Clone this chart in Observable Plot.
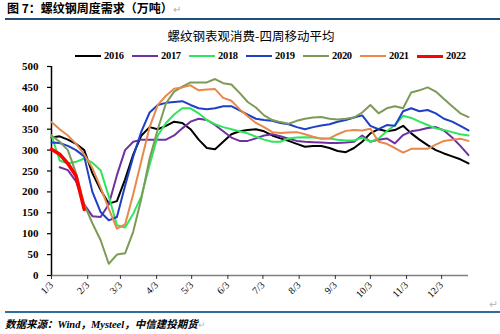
<!DOCTYPE html>
<html>
<head>
<meta charset="utf-8">
<script src="https://cdn.jsdelivr.net/npm/d3@7"></script>
<script src="https://cdn.jsdelivr.net/npm/@observablehq/plot@0.6"></script>
<style>
  html, body { margin: 0; padding: 0; background: #fff; }
  body { width: 500px; height: 334px; overflow: hidden; position: relative; font-family: "Noto Sans CJK SC", sans-serif; color: #000; }
  #top { position: relative; height: 62px; }
  #head { position: absolute; left: 7px; top: 0; font-size: 12px; font-weight: bold; line-height: 15px; white-space: nowrap; }
  #head .ret { color: #aaa; font-weight: normal; font-size: 10px; }
  #headline { position: absolute; left: 5px; right: 0; top: 18px; height: 2px; background: #1F4E79; }
  #title { position: absolute; left: 0; width: 502px; top: 29px; text-align: center; font-size: 12.5px; line-height: 14px; }
  #legend { position: absolute; left: 75px; top: 50px; height: 12px; display: flex; }
  .item { display: flex; align-items: center; width: 57px; height: 12px; }
  .swatch { width: 26px; margin-right: 3px; }
  .lab { font-family: "Liberation Serif", serif; font-size: 10.5px; font-weight: bold; line-height: 12px; letter-spacing: -0.3px; }
  #chart svg { display: block; overflow: visible; }
  #foot { position: relative; height: 28px; }
  #footline { position: absolute; left: 5px; right: 0; top: 5px; height: 2px; background: #2F6E9F; }
  #source { position: absolute; left: 5px; top: 12px; font-size: 10.5px; line-height: 14px; font-weight: bold; font-style: italic; font-family: "Liberation Serif", "Noto Sans CJK SC", serif; white-space: nowrap; }
  #ret2 { position: absolute; left: 489px; top: 295px; color: #bbb; font-size: 11px; }
</style>
</head>
<body>
<div id="top">
  <div id="head">图 7：螺纹钢周度需求（万吨）<span class="ret">↵</span></div>
  <div id="headline"></div>
  <div id="title">螺纹钢表观消费-四周移动平均</div>
  <div id="legend"></div>
</div>
<div id="chart"></div>
<div id="foot">
  <div id="footline"></div>
  <div id="source">数据来源：Wind，Mysteel，中信建投期货<span style="color:#bbb;font-weight:normal;font-style:normal;font-size:9px">↵</span></div>
</div>
<div id="ret2">↵</div>
<script>
// ---- data ----
const years = ["2016", "2017", "2018", "2019", "2020", "2021", "2022"];
const colors = ["#000000", "#7030A0", "#2EE65A", "#1F3FC4", "#7E9A56", "#E8884A", "#FF0000"];
const tickLabels = ["1/3","2/3","3/3","4/3","5/3","6/3","7/3","8/3","9/3","10/3","11/3","12/3"];
const yTicks = [0, 50, 100, 150, 200, 250, 300, 350, 400, 450, 500];

const y2016 = [330,333,325,315,300,245,205,172,178,230,290,335,355,350,358,368,365,350,325,305,302,320,338,345,348,350,345,335,328,322,315,308,310,310,305,298,295,305,320,340,350,345,348,358,340,325,312,300,292,285,278,268];
const y2017 = [null,259,252,225,170,142,140,170,240,300,320,325,325,325,325,335,352,368,375,372,360,345,330,322,322,328,335,338,333,327,322,320,319,318,317,317,318,320,335,320,325,328,316,336,345,348,353,355,347,330,310,288];
const y2018 = [335,275,268,272,280,270,252,190,120,115,148,190,265,335,365,385,400,400,388,372,362,355,350,345,340,332,325,320,320,328,330,331,330,328,328,325,323,323,330,320,328,345,360,382,377,368,360,352,348,343,338,335];
const y2019 = [318,317,310,300,285,200,152,132,140,215,285,345,390,408,413,415,417,408,400,398,400,405,405,395,385,375,372,370,365,362,355,350,355,359,362,368,372,378,383,358,350,360,358,393,400,393,396,388,375,368,358,347];
const y2020 = [335,320,300,245,170,125,85,28,50,53,105,185,280,350,412,440,452,462,462,462,470,460,457,437,415,402,383,372,367,363,370,375,378,379,375,373,375,378,390,408,388,400,405,400,438,443,450,440,422,405,388,379];
const y2021 = [367,350,335,315,290,257,211,160,112,122,195,275,355,408,430,447,450,455,443,445,446,425,418,398,381,365,355,343,341,342,343,338,332,327,328,338,346,348,347,351,320,315,305,294,303,303,303,313,322,325,327,322];
const y2022 = [302,290,268,238,158];
const series = [y2016, y2017, y2018, y2019, y2020, y2021, y2022];

// ---- table ----
const startMs = Date.UTC(2021, 0, 3);
const endMs = Date.UTC(2021, 11, 26);
const rows = [];
series.forEach((vals, i) => {
  vals.forEach((v, k) => {
    if (v != null) rows.push({year: years[i], date: new Date(startMs + k * 7 * 864e5), value: v});
  });
});
const tickDates = tickLabels.map((_, i) => new Date(Date.UTC(2021, i, 3)));

// ---- legend ----
const legend = document.getElementById("legend");
years.forEach((y, i) => {
  const it = document.createElement("div");
  it.className = "item";
  const sw = document.createElement("div");
  sw.className = "swatch";
  sw.style.height = (y === "2022" ? 3 : 2) + "px";
  sw.style.background = colors[i];
  const lb = document.createElement("span");
  lb.className = "lab";
  lb.textContent = y;
  it.appendChild(sw); it.appendChild(lb);
  legend.appendChild(it);
});

// ---- chart ----
const marks = [
  Plot.ruleY([0], {stroke: "#808080", strokeWidth: 1.5}),
  Plot.ruleX([new Date(startMs)], {y1: 0, y2: 500, stroke: "#000", strokeWidth: 1.5}),
  Plot.axisY({ticks: yTicks, tickSize: 4, tickPadding: 9, fontSize: 11, fontWeight: "bold", fontFamily: "Liberation Serif", stroke: "#000", strokeWidth: 1.2, label: null}),
  Plot.axisX({ticks: tickDates, tickFormat: d => tickLabels[d.getUTCMonth()], tickRotate: -45, tickSize: 4, tickPadding: 4, fontSize: 10, fontFamily: "Liberation Serif", stroke: "#333", label: null}),
];
years.forEach((y, i) => {
  marks.push(Plot.line(rows.filter(r => r.year === y), {
    x: "date", y: "value",
    stroke: colors[i],
    strokeWidth: y === "2022" ? 3.5 : 2,
    strokeLinejoin: "round"
  }));
});

const chart = Plot.plot({
  width: 500,
  height: 244,
  marginTop: 4,
  marginBottom: 31,
  marginLeft: 51,
  marginRight: 32,
  style: {background: "transparent", overflow: "visible"},
  x: {type: "utc", domain: [new Date(startMs), new Date(endMs)]},
  y: {domain: [0, 500]},
  marks
});
document.getElementById("chart").appendChild(chart);
</script>
</body>
</html>
